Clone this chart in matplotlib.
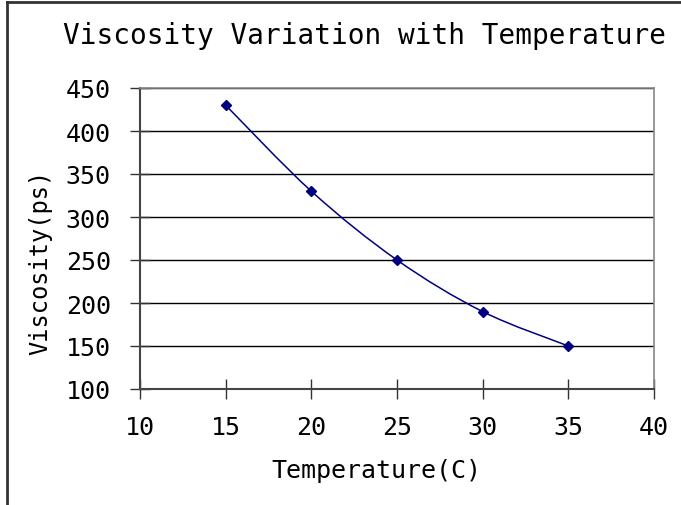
import matplotlib.pyplot as plt
import numpy as np
from matplotlib.path import Path
from matplotlib.patches import PathPatch
from matplotlib.lines import Line2D

temperature = [15, 20, 25, 30, 35]
viscosity = [430, 330, 250, 190, 150]
x_ticks = [10, 15, 20, 25, 30, 35, 40]
y_ticks = [100, 150, 200, 250, 300, 350, 400, 450]

plt.rcParams['font.family'] = ['DejaVu Sans Mono']

fig = plt.figure(figsize=(6.81, 5.06), dpi=100)
ax = fig.add_axes([140 / 681, 1 - 390 / 506, 514 / 681, 301 / 506])

# smoothed line like the spreadsheet one (bezier through the points)
pts = np.column_stack([temperature, viscosity]).astype(float)
ext = np.vstack([pts[0], pts, pts[-1]])
verts = [pts[0]]
codes = [Path.MOVETO]
for i in range(len(pts) - 1):
    p0, p1, p2, p3 = ext[i], ext[i + 1], ext[i + 2], ext[i + 3]
    verts += [p1 + (p2 - p0) / 6, p2 - (p3 - p1) / 6, p2]
    codes += [Path.CURVE4] * 3
ax.add_patch(PathPatch(Path(verts, codes), facecolor='none',
                       edgecolor='#000080', linewidth=1.1, zorder=3))
ax.plot(temperature, viscosity, linestyle='none', marker='D', markersize=5,
        color='#000080', zorder=4)

ax.set_xlim(10, 40)
ax.set_ylim(100, 450)
ax.set_xticks(x_ticks)
ax.set_yticks(y_ticks)
ax.tick_params(direction='inout', length=14, width=1, color='#333333',
               labelsize=18)
ax.tick_params(axis='x', pad=12)
ax.tick_params(axis='y', pad=14)
ax.grid(axis='y', color='black', linewidth=1)
ax.set_axisbelow(True)
for side in ['left', 'bottom']:
    ax.spines[side].set_color('#444444')
    ax.spines[side].set_linewidth(1.5)
for side in ['top', 'right']:
    ax.spines[side].set_color('#888888')
    ax.spines[side].set_linewidth(1.2)

ax.set_xlabel('Temperature(C)', fontsize=18)
ax.xaxis.set_label_coords((376 - 140) / 514, -(459 - 390) / 301)
ax.set_ylabel('Viscosity(ps)', fontsize=17, va='center')
ax.yaxis.set_label_coords((40 - 140) / 514, 1 - (262 - 89) / 301)
fig.text(365 / 681, 1 - 36 / 506, 'Viscosity Variation with Temperature',
         fontsize=20, ha='center', va='center')

# outer frame (only left and top edges show)
fig.add_artist(Line2D([7 / 681, 7 / 681], [0, 1 - 3 / 506], color='#333333',
                      linewidth=2, transform=fig.transFigure))
fig.add_artist(Line2D([7 / 681, 1], [1 - 3 / 506, 1 - 3 / 506], color='#333333',
                      linewidth=2, transform=fig.transFigure))

fig.savefig('out.png', dpi=100)
